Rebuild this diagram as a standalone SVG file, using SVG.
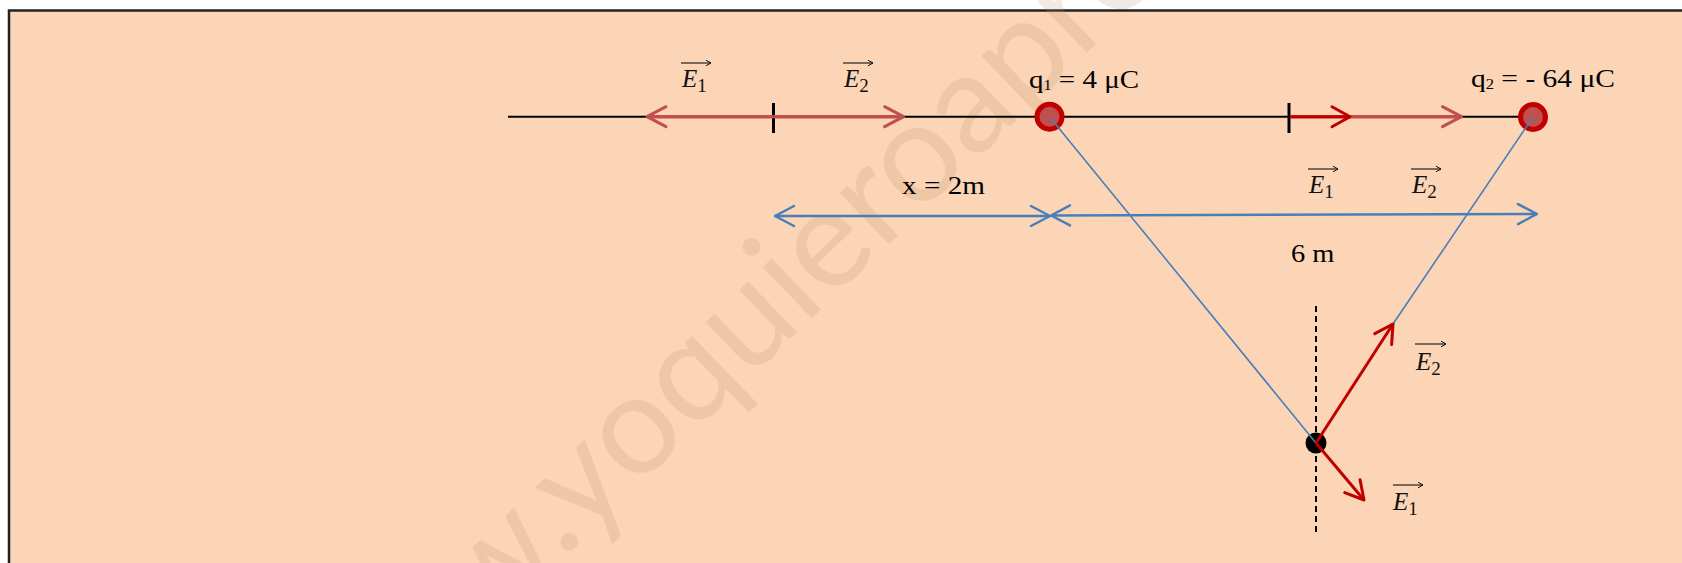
<svg xmlns="http://www.w3.org/2000/svg" width="1682" height="563" viewBox="0 0 1682 563">
<style>
.t{font-family:"Liberation Serif","Times New Roman",serif;font-size:25px;fill:#000}
.e{font-family:"Liberation Serif","Times New Roman",serif;font-style:italic;font-size:25px;fill:#111}
.s{font-style:normal;font-size:19px}
.ov{stroke:#111;stroke-width:1.1;fill:none}
.wm{font-family:Lato,"Liberation Sans",sans-serif;font-size:140px;fill:#C09070;fill-opacity:0.2}
.blk{stroke:#000;stroke-width:2;fill:none}
.tick{stroke:#000;stroke-width:3}
.rl{stroke:#C0504D;stroke-width:3.5;fill:none}
.rd{stroke:#C00000;stroke-width:3;fill:none}
.bd{stroke:#4A7EBB;stroke-width:2.5;fill:none}
.bl{stroke:#4A7EBB;stroke-width:1.6;fill:none}
.chev{fill:none;stroke-linejoin:round;stroke-linecap:round}
</style>
<defs>
<marker id="mRL" markerUnits="userSpaceOnUse" orient="auto-start-reverse" viewBox="-25 -25 50 50" markerWidth="50" markerHeight="50" refX="0" refY="0" overflow="visible"><path class="chev" d="M-19,-10 L0,0 L-19,10" stroke="#C0504D" stroke-width="3"/></marker>
<marker id="mRD" markerUnits="userSpaceOnUse" orient="auto-start-reverse" viewBox="-25 -25 50 50" markerWidth="50" markerHeight="50" refX="0" refY="0" overflow="visible"><path class="chev" d="M-18,-10 L0,0 L-18,10" stroke="#C00000" stroke-width="3"/></marker>
<marker id="mB" markerUnits="userSpaceOnUse" orient="auto-start-reverse" viewBox="-25 -25 50 50" markerWidth="50" markerHeight="50" refX="0" refY="0" overflow="visible"><path class="chev" d="M-19,-10 L0,0 L-19,10" stroke="#4A7EBB" stroke-width="2.5"/></marker>
<marker id="mO" markerUnits="userSpaceOnUse" orient="auto" viewBox="-10 -10 20 20" markerWidth="20" markerHeight="20" refX="0" refY="0" overflow="visible"><path d="M-5,-2.8 L0,0 L-5,2.8" fill="none" stroke="#111" stroke-width="1"/></marker>
</defs>
<rect x="0" y="0" width="1682" height="563" fill="#FFFFFF"/>
<rect x="9" y="10.5" width="1700" height="600" fill="#FBD5B5" stroke="#222" stroke-width="2.5"/>
<g transform="translate(662 463) rotate(-44)"><text class="wm"><tspan x="-38" y="0" text-anchor="end">www.y</tspan><tspan x="-38" y="0">oquieroaprobar.es</tspan></text></g>

<g id="connectors">
<line class="blk" x1="508" y1="116.7" x2="1533" y2="116.7"/>
<line class="tick" x1="773.5" y1="103" x2="773.5" y2="133"/>
<line class="tick" x1="1289" y1="103" x2="1289" y2="133"/>
<line class="rl" x1="773.5" y1="116.7" x2="647" y2="116.7" marker-end="url(#mRL)"/>
<line class="rl" x1="773.5" y1="116.7" x2="903.6" y2="116.7" marker-end="url(#mRL)"/>
<line class="rl" x1="1290" y1="116.7" x2="1461.5" y2="116.7" marker-end="url(#mRL)"/>
<line class="rd" x1="1290" y1="116.7" x2="1350" y2="116.7" marker-end="url(#mRD)"/>
<line class="bd" x1="775" y1="216" x2="1050" y2="216" marker-start="url(#mB)" marker-end="url(#mB)"/>
<line class="bd" x1="1051" y1="215.5" x2="1537" y2="214" marker-start="url(#mB)" marker-end="url(#mB)"/>
<line x1="1316" y1="306" x2="1316" y2="535" stroke="#000" stroke-width="2" stroke-dasharray="6 4"/>
</g>

<g id="q1"><circle cx="1049.5" cy="116.7" r="12.5" fill="#C0504D" stroke="#C00000" stroke-width="5"/></g>
<g id="q2"><circle cx="1533" cy="117" r="12.5" fill="#C0504D" stroke="#C00000" stroke-width="5"/></g>
<g id="P"><circle cx="1316" cy="443" r="10.5" fill="#000"/></g>

<g id="connectors-top">
<line class="bl" x1="1049.5" y1="116.7" x2="1316" y2="443"/>
<line class="bl" x1="1533" y1="117" x2="1393" y2="324"/>
<line class="rd" x1="1316" y1="443" x2="1393" y2="324" marker-end="url(#mRD)"/>
<line class="rd" x1="1316" y1="443" x2="1364" y2="500" marker-end="url(#mRD)"/>
</g>

<g id="labels">
<text class="t" x="1029" y="88" textLength="110" lengthAdjust="spacingAndGlyphs">q<tspan font-size="14" dy="2">1</tspan><tspan dy="-2"> = 4 μC</tspan></text>
<text class="t" x="1471" y="87" textLength="144" lengthAdjust="spacingAndGlyphs">q<tspan font-size="14" dy="2">2</tspan><tspan dy="-2"> = - 64 μC</tspan></text>
<text class="t" x="902" y="194" textLength="83" lengthAdjust="spacingAndGlyphs">x = 2m</text>
<text class="t" x="1291" y="262" textLength="43.5" lengthAdjust="spacingAndGlyphs">6 m</text>
</g>

<g id="E1-top"><text class="e" x="682" y="87">E<tspan class="s" dy="5">1</tspan></text><line class="ov" x1="681" y1="63" x2="711" y2="63" marker-end="url(#mO)"/></g>
<g id="E2-top"><text class="e" x="844" y="87">E<tspan class="s" dy="5">2</tspan></text><line class="ov" x1="843" y1="63" x2="873" y2="63" marker-end="url(#mO)"/></g>
<g id="E1-mid"><text class="e" x="1309" y="193" font-size="27">E<tspan class="s" dy="5" font-size="20">1</tspan></text><line class="ov" x1="1308" y1="169" x2="1338" y2="169" marker-end="url(#mO)"/></g>
<g id="E2-mid"><text class="e" x="1412" y="193" font-size="27">E<tspan class="s" dy="5" font-size="20">2</tspan></text><line class="ov" x1="1411" y1="169" x2="1441" y2="169" marker-end="url(#mO)"/></g>
<g id="E2-P"><text class="e" x="1416" y="370" font-size="27">E<tspan class="s" dy="5" font-size="20">2</tspan></text><line class="ov" x1="1415" y1="344" x2="1446" y2="344" marker-end="url(#mO)"/></g>
<g id="E1-P"><text class="e" x="1393" y="510" font-size="27">E<tspan class="s" dy="5" font-size="20">1</tspan></text><line class="ov" x1="1393" y1="485" x2="1423" y2="485" marker-end="url(#mO)"/></g>
</svg>
